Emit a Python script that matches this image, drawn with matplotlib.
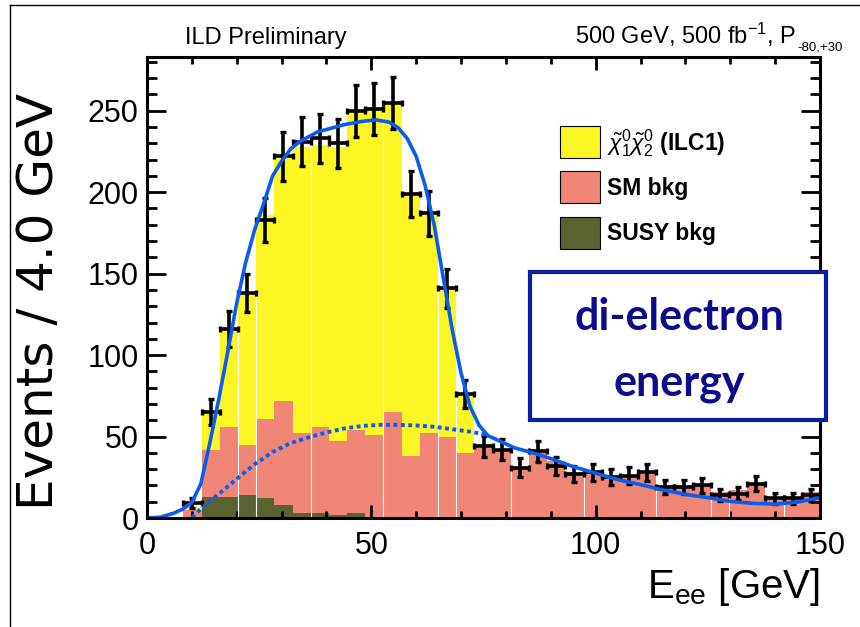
import numpy as np
import matplotlib
matplotlib.use("Agg")
import matplotlib.pyplot as plt
from matplotlib.patches import Rectangle
from matplotlib.lines import Line2D

plt.rcParams["font.family"] = ["Liberation Sans", "DejaVu Sans"]
plt.rcParams["mathtext.fontset"] = "custom"
plt.rcParams["mathtext.rm"] = "Liberation Sans"
plt.rcParams["mathtext.it"] = "Liberation Sans:italic"
plt.rcParams["mathtext.bf"] = "Liberation Sans:bold"

W, H = 860, 627

# ---- histogram content (37 bins over 0-150 GeV) -------------------------
n_bins = 37
e_lo, e_hi = 0.0, 150.0
susy_bkg = [0, 0, 0, 13, 13, 14, 12, 8, 3, 3, 2, 3, 0, 0, 0, 0, 0, 0, 0,
            0, 0, 0, 0, 0, 0, 0, 0, 0, 0, 0, 0, 0, 0, 0, 0, 0, 0]
sm_bkg = [0, 0, 5, 29, 43, 31, 49, 64, 49, 53, 45, 51, 51, 65, 38, 52, 50,
          40, 43, 42, 32, 41, 35, 28, 27, 26, 26, 29, 20, 20, 21, 16, 17, 21,
          12, 13, 16]
signal = [0, 0, 2, 22, 60, 92, 125, 150, 176, 173, 181, 196, 201, 191, 162,
          135, 91, 36, 1, 0, 0, 0, 0, 0, 0, 0, 0, 0, 0, 0, 0, 0, 0, 0, 0, 0, 0]

# pseudo-data, bins 2..36
data_first_bin = 2
data_counts = [9, 65, 116, 138, 183, 222, 231, 233, 230, 250, 251, 255, 199,
               187, 141, 76, 44, 42, 31, 41, 32, 27, 28, 25, 26, 28, 19, 19,
               20, 14, 15, 21, 12, 12, 14]

# full fit (solid) and background part (dotted)
fit_x = [0, 3, 6, 8, 10, 12, 14, 16, 18, 20, 22, 24, 26, 28, 30, 32, 34, 36,
         38, 40, 44, 48, 51, 54, 56, 58, 60, 62, 64, 66, 68, 70, 72, 74, 76,
         78, 82, 86, 90, 95, 100, 105, 110, 115, 120, 125, 130, 135, 140, 145,
         150]
fit_y = [0, 0.5, 3, 5.5, 9.5, 21, 46, 73, 102, 132, 157, 177, 193, 210, 219,
         226.5, 231, 234, 237, 238.5, 241.5, 243.5, 244.4, 243, 239.5, 233,
         222, 204, 180, 148, 116, 89, 68.5, 57, 50.5, 48, 43, 40, 36.5, 31.5,
         27.5, 23.5, 20.5, 17.2, 14.5, 12.5, 10.2, 9, 8.5, 9.8, 12.5]
bkg_x = [10, 13, 17, 20, 24, 28, 32, 36, 40, 44, 48, 52, 56, 60, 64, 68, 72,
         76]
bkg_y = [0.5, 8, 17, 24, 33, 40.5, 46, 49.5, 52.5, 55, 56.5, 57.2, 57.2, 56.8,
         56, 54.5, 53, 51]

# bin edges where the original shows thin white rendering seams
seam_edges = [5, 6, 9, 13, 16, 17, 20, 24, 28, 31, 32, 35]

YELLOW = "#fdf624"
SALMON = "#f08676"
OLIVE = "#5a6330"
FIT_BLUE = "#0a5cf0"


def fx(px):
    return px / W


def fy(py):
    return 1.0 - py / H


fig = plt.figure(figsize=(W / 100, H / 100), dpi=100)
ax = fig.add_axes([fx(147), fy(518), fx(820) - fx(147), fy(57) - fy(518)])

edges = np.linspace(e_lo, e_hi, n_bins + 1)
susy = np.array(susy_bkg, float)
sm = np.array(sm_bkg, float)
sig = np.array(signal, float)

ax.stairs(susy, edges, baseline=0, fill=True, color=OLIVE, lw=0)
ax.stairs(susy + sm, edges, baseline=susy, fill=True, color=SALMON, lw=0)
ax.stairs(susy + sm + sig, edges, baseline=susy + sm, fill=True,
          color=YELLOW, lw=0)

total = susy + sm + sig
for k in seam_edges:
    ax.vlines(edges[k], 0, min(total[k - 1], total[k]), color="white",
              lw=0.8, zorder=2)

# ---- data points with Poisson errors ----------------------------------
centers = 0.5 * (edges[:-1] + edges[1:])
dx = centers[data_first_bin:data_first_bin + len(data_counts)]
dy = np.array(data_counts, float)
half_w = 0.5 * (edges[1] - edges[0])
ax.errorbar(dx, dy, yerr=np.sqrt(dy), xerr=half_w, fmt="none", ecolor="black",
            elinewidth=2.6, capsize=2.5, capthick=2.4, zorder=5)

ax.plot(fit_x, fit_y, "-", color=FIT_BLUE, lw=2.6, zorder=6)
ax.plot(bkg_x, bkg_y, linestyle=(0, (1.0, 0.9)), color=FIT_BLUE, lw=2.8,
        zorder=6)

# ---- axes styling (ROOT-like) -----------------------------------------
ax.set_xlim(e_lo, e_hi)
ax.set_ylim(0, 283)
ax.set_xticks([0, 50, 100, 150])
ax.set_xticks(np.arange(0, 151, 10), minor=True)
ax.set_yticks([0, 50, 100, 150, 200, 250])
ax.set_yticks(np.arange(0, 281, 10), minor=True)
for s in ax.spines.values():
    s.set_linewidth(2.2)
    s.set_zorder(7)
ax.tick_params(axis="both", which="both", direction="in", top=True,
               right=True, width=2.0, labelsize=22)
ax.tick_params(axis="x", which="major", length=9.5, pad=9)
ax.tick_params(axis="x", which="minor", length=5)
ax.tick_params(axis="y", which="major", length=14, pad=6)
ax.tick_params(axis="y", which="minor", length=7)

fig.text(fx(820), fy(598), r"E$_{\mathregular{ee}}$ [GeV]", fontsize=29,
         ha="right", va="baseline")
fig.text(fx(39), fy(301), "Events / 4.0 GeV", fontsize=36, rotation=90,
         family="DejaVu Sans", ha="center", va="center")

# ---- header ------------------------------------------------------------
fig.text(fx(185), fy(44), "ILD Preliminary", fontsize=17, va="baseline")
fig.text(fx(796), fy(44), r"500 GeV, 500 fb$^{\mathregular{-1}}$, P",
         fontsize=17, ha="right", va="baseline")
fig.text(fx(797), fy(51), "-80,+30", fontsize=9.5, ha="left", va="baseline")

# ---- legend ------------------------------------------------------------
leg_items = [(YELLOW, r"$\tilde{\chi}^0_1\tilde{\chi}^0_2$ (ILC1)", 126),
             (SALMON, "SM bkg", 171),
             (OLIVE, "SUSY bkg", 217)]
for col, lab, top in leg_items:
    fig.add_artist(Rectangle((fx(560), fy(top + 32)), fx(40), 32 / H,
                             transform=fig.transFigure, facecolor=col,
                             edgecolor="black", lw=0.8))
    fig.text(fx(607), fy(top + 17), lab, fontsize=16.5, fontweight="bold",
             va="center")

# ---- annotation box ----------------------------------------------------
fig.add_artist(Rectangle((fx(530), fy(420)), fx(296), 148 / H,
                         transform=fig.transFigure, facecolor="white",
                         edgecolor="#0a1fa0", lw=3.0, zorder=10))
fig.text(fx(679), fy(317), "di-electron", fontsize=31, fontweight="bold",
         family="Lato", color="#0b0b8c", ha="center", va="center", zorder=11)
fig.text(fx(679), fy(383), "energy", fontsize=31, fontweight="bold",
         family="Lato", color="#0b0b8c", ha="center", va="center", zorder=11)

# ---- outer slide frame (top and left edges) ----------------------------
fig.add_artist(Line2D([fx(10), 1.0], [fy(5), fy(5)], color="black", lw=1.0))
fig.add_artist(Line2D([fx(10), fx(10)], [fy(5), 0.0], color="black", lw=1.0))

fig.savefig("out.png", dpi=100)
